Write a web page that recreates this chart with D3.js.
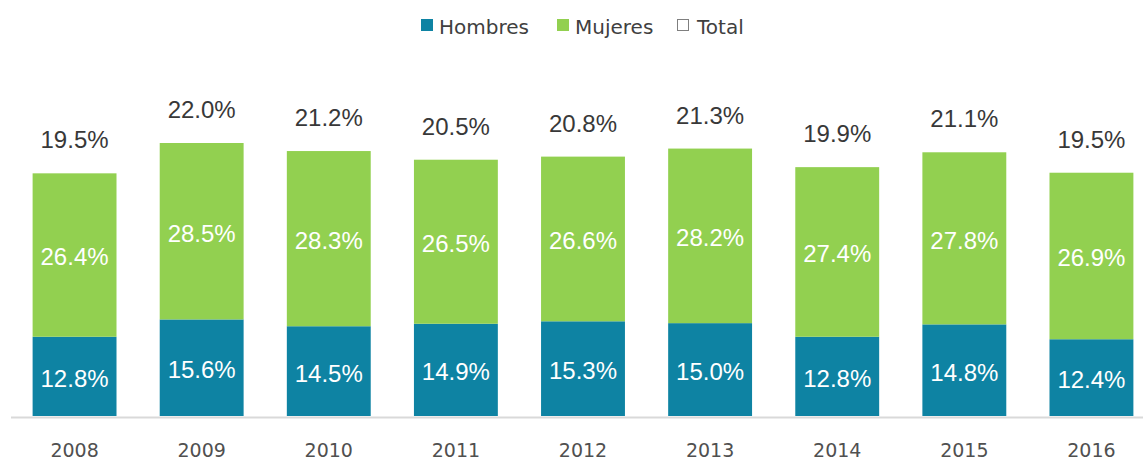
<!DOCTYPE html>
<html>
<head>
<meta charset="utf-8">
<script src="https://cdn.jsdelivr.net/npm/d3@7"></script>
<style>
  body { margin: 0; background: #fff; }
</style>
</head>
<body>
<div id="chart"></div>
<script>
// data
var years = ["2008", "2009", "2010", "2011", "2012", "2013", "2014", "2015", "2016"];
var hombres = [12.8, 15.6, 14.5, 14.9, 15.3, 15.0, 12.8, 14.8, 12.4];
var mujeres = [26.4, 28.5, 28.3, 26.5, 26.6, 28.2, 27.4, 27.8, 26.9];
var total = [19.5, 22.0, 21.2, 20.5, 20.8, 21.3, 19.9, 21.1, 19.5];
var seriesNames = ["Hombres", "Mujeres", "Total"];

var svgWidth = 1143;
var svgHeight = 460;
var colors = { Hombres: "#0e83a3", Mujeres: "#92d050", Total: "#ffffff" };

var svg = d3.select("#chart")
  .append("svg")
  .attr("width", svgWidth)
  .attr("height", svgHeight);

var rows = years.map(function(y, i) {
  return { year: y, Hombres: hombres[i], Mujeres: mujeres[i], Total: total[i] };
});

var stack = d3.stack().keys(["Hombres", "Mujeres"])(rows);

// scales
var x = d3.scaleBand()
  .domain(years)
  .range([11, 1155])
  .paddingInner(0.34)
  .paddingOuter(0.17);

var y = d3.scaleLinear()
  .domain([0, 44.1])
  .range([416, 143]);

// baseline
svg.append("line")
  .attr("x1", 11).attr("x2", svgWidth)
  .attr("y1", 417.5).attr("y2", 417.5)
  .attr("stroke", "#d9d9d9")
  .attr("stroke-width", 2);

// bars
var layers = svg.selectAll("g.layer")
  .data(stack)
  .enter()
  .append("g")
  .attr("class", "layer")
  .attr("fill", d => colors[d.key]);

layers.selectAll("rect")
  .data(d => d)
  .enter()
  .append("rect")
  .attr("x", d => x(d.data.year))
  .attr("width", x.bandwidth())
  .attr("y", d => y(d[1]))
  .attr("height", d => y(d[0]) - y(d[1]));

// labels inside segments
layers.selectAll("text")
  .data(d => d.map(v => ({ v: v, key: d.key })))
  .enter()
  .append("text")
  .attr("x", d => x(d.v.data.year) + x.bandwidth() / 2)
  .attr("y", d => (y(d.v[0]) + y(d.v[1])) / 2 + 2)
  .attr("dy", "0.35em")
  .attr("text-anchor", "middle")
  .attr("font-family", "Liberation Sans, Arial, sans-serif")
  .attr("font-size", 24)
  .attr("fill", "#ffffff")
  .text(d => d.v.data[d.key].toFixed(1) + "%");

// total labels above bars
svg.selectAll("text.total")
  .data(rows)
  .enter()
  .append("text")
  .attr("class", "total")
  .attr("x", d => x(d.year) + x.bandwidth() / 2)
  .attr("y", d => y(d.Hombres + d.Mujeres) - 25)
  .attr("text-anchor", "middle")
  .attr("font-family", "Liberation Sans, Arial, sans-serif")
  .attr("font-size", 24)
  .attr("fill", "#383838")
  .text(d => d.Total.toFixed(1) + "%");

// x axis labels
var bottomAxis = d3.axisBottom(x).tickSize(0).tickPadding(0);
var axisG = svg.append("g")
  .attr("transform", "translate(0, 443)")
  .call(bottomAxis);
axisG.select(".domain").remove();
axisG.selectAll("text")
  .attr("font-family", "DejaVu Sans, sans-serif")
  .attr("font-size", 19)
  .attr("fill", "#505050");

// legend
var legendX = [421, 557, 677];
var legend = svg.selectAll("g.legend")
  .data(seriesNames)
  .enter()
  .append("g")
  .attr("class", "legend")
  .attr("transform", (d, i) => `translate(${legendX[i]}, 19)`);

legend.append("rect")
  .attr("x", d => d === "Total" ? 0.5 : 0)
  .attr("y", d => d === "Total" ? 0.5 : 0)
  .attr("width", d => d === "Total" ? 11 : 12)
  .attr("height", d => d === "Total" ? 11 : 12)
  .attr("fill", d => colors[d])
  .attr("stroke", d => d === "Total" ? "#7f7f7f" : "none");

legend.append("text")
  .attr("x", d => d === "Total" ? 20 : 18)
  .attr("y", 8)
  .attr("dy", "0.35em")
  .attr("font-family", "DejaVu Sans, sans-serif")
  .attr("font-size", 20)
  .attr("fill", "#404040")
  .text(d => d);
</script>
</body>
</html>
